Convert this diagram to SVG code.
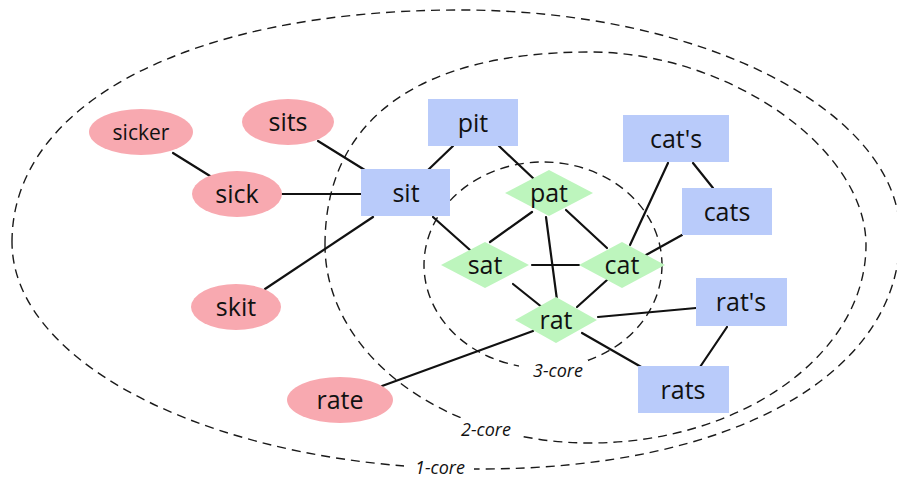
<svg xmlns="http://www.w3.org/2000/svg" width="897" height="479" viewBox="0 0 897 479">
  <style>
    .core { fill: none; stroke: #1a1a1a; stroke-width: 1.4; stroke-dasharray: 9 6; }
    .core-label { font-family: "Open Sans", "Liberation Sans", sans-serif; font-style: italic; font-size: 18px; fill: #111; text-anchor: middle; }
    .gap { fill: #fff; }
    .edge { stroke: #111; stroke-width: 2.2; stroke-linecap: round; fill: none; }
    .word { fill: #f8a9b0; }
    .form { fill: #b9cbfa; }
    .core3 { fill: #bdf5bd; }
    .lbl { font-family: "Open Sans", "Liberation Sans", sans-serif; font-size: 25px; font-weight: 500; fill: #111; text-anchor: middle; }
  </style>
  <rect width="897" height="479" fill="#fff"/>

  <!-- k-core boundaries -->
  <g id="cores">
    <path class="core" d="M12,242 C12,103 191,10 460,10 C702,10 900,111 900,235 C900,375 732,469 480,469 C223,469 12,367 12,242 Z"/>
    <path class="core" d="M325,245 C325,120 418,52 590,52 C728,52 866,148 866,245 C866,354 742,443 590,443 C444,443 325,354 325,245 Z"/>
    <ellipse class="core" cx="543" cy="265" rx="119" ry="103"/>
    <rect class="gap" x="404" y="458" width="70" height="21"/>
    <rect class="gap" x="455" y="418" width="65" height="22"/>
    <rect class="gap" x="519" y="360" width="69" height="20"/>
    <text class="core-label" x="440" y="474">1-core</text>
    <text class="core-label" x="486" y="436">2-core</text>
    <text class="core-label" x="558" y="377">3-core</text>
  </g>

  <!-- connectors -->
  <g id="edges">
    <line class="edge" x1="173" y1="153" x2="210" y2="176"/>
    <line class="edge" x1="318" y1="141" x2="368" y2="172"/>
    <line class="edge" x1="282" y1="194" x2="361" y2="194"/>
    <line class="edge" x1="428" y1="170" x2="453" y2="146"/>
    <line class="edge" x1="499" y1="146" x2="535" y2="180"/>
    <line class="edge" x1="373" y1="217" x2="265" y2="289"/>
    <line class="edge" x1="433" y1="217" x2="470" y2="250"/>
    <line class="edge" x1="532" y1="212" x2="490" y2="242"/>
    <line class="edge" x1="546" y1="217" x2="557" y2="300"/>
    <line class="edge" x1="566" y1="210" x2="607" y2="248"/>
    <line class="edge" x1="532" y1="265" x2="579" y2="265"/>
    <line class="edge" x1="513" y1="284" x2="543" y2="308"/>
    <line class="edge" x1="607" y1="280" x2="577" y2="307"/>
    <line class="edge" x1="668" y1="163" x2="630" y2="245"/>
    <line class="edge" x1="693" y1="163" x2="713" y2="188"/>
    <line class="edge" x1="682" y1="235" x2="646" y2="255"/>
    <line class="edge" x1="598" y1="317" x2="696" y2="308"/>
    <line class="edge" x1="582" y1="333" x2="643" y2="368"/>
    <line class="edge" x1="727" y1="327" x2="700" y2="367"/>
    <line class="edge" x1="533" y1="331" x2="382" y2="386"/>
  </g>

  <!-- outer words -->
  <g id="sicker"><ellipse class="word" cx="141" cy="132" rx="52" ry="23"/><text class="lbl" x="141" y="140" style="font-size:21px">sicker</text></g>
  <g id="sits"><ellipse class="word" cx="288" cy="122" rx="46" ry="23"/><text class="lbl" x="288" y="131">sits</text></g>
  <g id="sick"><ellipse class="word" cx="237" cy="194" rx="45" ry="23"/><text class="lbl" x="237" y="203">sick</text></g>
  <g id="skit"><ellipse class="word" cx="236" cy="307" rx="45" ry="23"/><text class="lbl" x="236" y="316">skit</text></g>
  <g id="rate"><ellipse class="word" cx="340" cy="400" rx="53" ry="23"/><text class="lbl" x="340" y="409">rate</text></g>

  <!-- 2-core words -->
  <g id="sit"><rect class="form" x="361" y="169" width="89" height="47"/><text class="lbl" x="406" y="202">sit</text></g>
  <g id="pit"><rect class="form" x="428" y="99" width="90" height="47"/><text class="lbl" x="473" y="132">pit</text></g>
  <g id="cat-s"><rect class="form" x="623" y="115" width="106" height="47"/><text class="lbl" x="676" y="148">cat's</text></g>
  <g id="cats"><rect class="form" x="682" y="188" width="90" height="47"/><text class="lbl" x="727" y="221">cats</text></g>
  <g id="rat-s"><rect class="form" x="696" y="278" width="91" height="48"/><text class="lbl" x="741" y="311">rat's</text></g>
  <g id="rats"><rect class="form" x="638" y="366" width="91" height="47"/><text class="lbl" x="683" y="399">rats</text></g>

  <!-- 3-core words -->
  <g id="pat"><polygon class="core3" points="505,193 549,170 593,193 549,216"/><text class="lbl" x="549" y="202">pat</text></g>
  <g id="sat"><polygon class="core3" points="441,265 485,242 529,265 485,288"/><text class="lbl" x="485" y="274">sat</text></g>
  <g id="cat"><polygon class="core3" points="579,265 622,242 665,265 622,288"/><text class="lbl" x="622" y="274">cat</text></g>
  <g id="rat"><polygon class="core3" points="515,320 556,297 597,320 556,343"/><text class="lbl" x="556" y="329">rat</text></g>
</svg>
